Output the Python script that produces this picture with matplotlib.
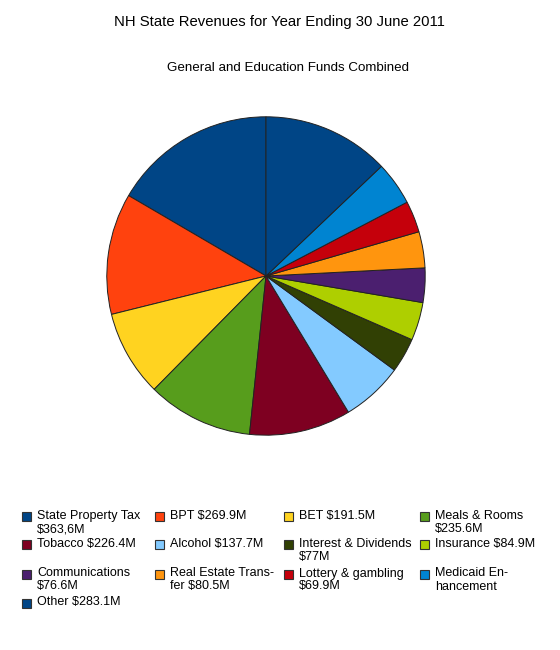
import matplotlib
matplotlib.use('Agg')
import matplotlib.pyplot as plt
from matplotlib.patches import Rectangle

plt.rcParams['font.family'] = ['Liberation Sans', 'DejaVu Sans']

# revenue categories, in legend order (Medicaid value not printed)
categories = ['State Property Tax', 'BPT', 'BET', 'Meals & Rooms', 'Tobacco', 'Alcohol',
              'Interest & Dividends', 'Insurance', 'Communications', 'Real Estate Transfer',
              'Lottery & gambling', 'Medicaid Enhancement', 'Other']
revenues = [363.6, 269.9, 191.5, 235.6, 226.4, 137.7, 77.0, 84.9, 76.6, 80.5, 69.9, 97.0, 283.1]
labels = ['State Property Tax\n$363,6M', 'BPT $269.9M', 'BET $191.5M', 'Meals & Rooms\n$235.6M',
          'Tobacco $226.4M', 'Alcohol $137.7M', 'Interest & Dividends\n$77M', 'Insurance $84.9M',
          'Communications\n$76.6M', 'Real Estate Trans-\nfer $80.5M', 'Lottery & gambling\n$69.9M',
          'Medicaid En-\nhancement', 'Other $283.1M']
colors = ['#004586', '#ff420e', '#ffd320', '#579d1c', '#7e0021', '#83caff', '#314004',
          '#aecf00', '#4b1f6f', '#ff950e', '#c5000b', '#0084d1', '#004586']

W, H = 560, 650
fig = plt.figure(figsize=(W / 100, H / 100), dpi=100)
fig.set_facecolor('white')

# pie centre (266,276) px, radius 160 px
cx, cy, r = 266, 276, 160
ax = fig.add_axes([(cx - r) / W, 1 - (cy + r) / H, 2 * r / W, 2 * r / H])
ax.pie(revenues, colors=colors, startangle=90, counterclock=True,
       wedgeprops={'edgecolor': '#222222', 'linewidth': 0.7})
ax.set_xlim(-1.005, 1.005)
ax.set_ylim(-1.005, 1.005)
ax.set_axis_off()

fig.text(279 / W, 1 - 22 / H, 'NH State Revenues for Year Ending 30 June 2011',
         ha='center', va='center', fontsize=10.7, color='black')
fig.text(288 / W, 1 - 68 / H, 'General and Education Funds Combined',
         ha='center', va='center', fontsize=9.6, color='black')

# legend: 4 columns, row-major
col_x = [22, 155, 284, 420]
row_base = [519, 547, 576.5, 605.5]
fs = 9.0
for i, (lab, c) in enumerate(zip(labels, colors)):
    row, col = divmod(i, 4)
    x0 = col_x[col]
    yb = row_base[row]
    fig.patches.append(Rectangle((x0 / W, 1 - (yb + 2) / H), 9 / W, 9 / H,
                                 transform=fig.transFigure, facecolor=c,
                                 edgecolor='#333333', linewidth=0.8))
    lines = lab.split('\n')
    for k, line in enumerate(lines):
        fig.text((x0 + 15) / W, 1 - (yb + 13 * k) / H, line, ha='left',
                 va='baseline', fontsize=fs, color='black')

plt.savefig('out.png', dpi=100, facecolor='white')
